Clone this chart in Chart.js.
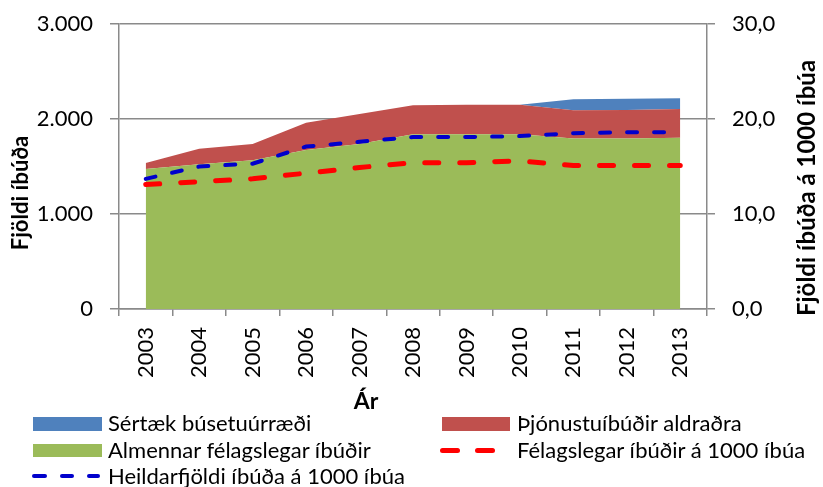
<!DOCTYPE html>
<html>
<head>
<meta charset="utf-8">
<script src="https://cdn.jsdelivr.net/npm/chart.js@4/dist/chart.umd.min.js"></script>
<style>
  html, body { margin: 0; padding: 0; background: #fff; }
  #wrap { position: relative; width: 823px; height: 487px; }
  #c { position: absolute; left: 0; top: 0; }
  .lg { position: absolute; font-family: Lato, 'Open Sans', sans-serif; font-size: 22px; color: #000; white-space: nowrap; line-height: 24px; }
  .sw { position: absolute; }
  .dash { position: absolute; border-radius: 3px; }
</style>
</head>
<body>
<div id="wrap">
  <canvas id="c" width="823" height="487"></canvas>
</div>
<script>
// ---- data ----
const years = ['2003','2004','2005','2006','2007','2008','2009','2010','2011','2012','2013'];
const almennar = [1474, 1523, 1565, 1674, 1737, 1839, 1839, 1839, 1796, 1796, 1803];
const thjonustu = [63, 165, 172, 287, 316, 305, 312, 312, 295, 299, 302];
const sertaek = [0, 0, 0, 0, 0, 0, 0, 0, 116, 117, 113];
const felagslegarPer1000 = [13.1, 13.4, 13.7, 14.3, 14.9, 15.4, 15.4, 15.6, 15.1, 15.1, 15.1];
const heildarPer1000 = [13.7, 15.0, 15.3, 17.1, 17.6, 18.1, 18.1, 18.2, 18.5, 18.6, 18.6];
const leftTickLabels = {0: '0', 1000: '1.000', 2000: '2.000', 3000: '3.000'};
const rightTickLabels = {0: '0,0', 10: '10,0', 20: '20,0', 30: '30,0'};
const seriesNames = ['Sértæk búsetuúrræði', 'Þjónustuíbúðir aldraðra', 'Almennar félagslegar íbúðir', 'Félagslegar íbúðir á 1000 íbúa', 'Heildarfjöldi íbúða á 1000 íbúa'];
const xTitle = 'Ár';
const yTitle = 'Fjöldi íbúða';
const y1Title = 'Fjöldi íbúða á 1000 íbúa';

// ---- styles ----
const FONT = 'Lato, "Open Sans", sans-serif';
const GRID = '#8a8a8a';
const C_GREEN = '#9BBB59', C_RED = '#C0504D', C_BLUE = '#4F81BD';
const C_LRED = '#FF0000', C_LBLUE = '#0000CC';

const titlePlugin = {
  id: 'titles',
  afterDraw(chart) {
    const ctx = chart.ctx;
    ctx.save();
    ctx.fillStyle = '#000';
    ctx.textAlign = 'center';
    ctx.textBaseline = 'middle';
    ctx.font = 'bold 23px ' + FONT;
    ctx.fillText(xTitle, 366, 402);
    ctx.save();
    ctx.translate(21, 193);
    ctx.rotate(-Math.PI / 2);
    ctx.font = 'bold 22px ' + FONT;
    ctx.fillText(yTitle, 0, 0);
    ctx.restore();
    ctx.save();
    ctx.translate(807, 188);
    ctx.rotate(-Math.PI / 2);
    ctx.font = 'bold 24px ' + FONT;
    ctx.fillText(y1Title, 0, 0);
    ctx.restore();
    ctx.restore();
  }
};

function fixVertical(width) {
  return function (s) { s.width = width; s.paddingTop = 0; s.paddingBottom = 0; };
}

new Chart(document.getElementById('c'), {
  type: 'line',
  data: {
    labels: years,
    datasets: [
      { label: seriesNames[2], data: almennar, yAxisID: 'y', fill: 'origin', backgroundColor: C_GREEN, borderColor: C_GREEN, borderWidth: 0, pointRadius: 0, order: 1 },
      { label: seriesNames[1], data: thjonustu, yAxisID: 'y', fill: '-1', backgroundColor: C_RED, borderColor: C_RED, borderWidth: 0, pointRadius: 0, order: 1 },
      { label: seriesNames[0], data: sertaek, yAxisID: 'y', fill: '-1', backgroundColor: C_BLUE, borderColor: C_BLUE, borderWidth: 0, pointRadius: 0, order: 1 },
      { label: seriesNames[3], data: felagslegarPer1000, yAxisID: 'y1', fill: false, borderColor: C_LRED, borderWidth: 5, borderDash: [14, 21], borderCapStyle: 'round', pointRadius: 0, order: 0 },
      { label: seriesNames[4], data: heildarPer1000, yAxisID: 'y1', fill: false, borderColor: C_LBLUE, borderWidth: 4, borderDash: [10, 17], borderCapStyle: 'round', pointRadius: 0, order: 0 }
    ]
  },
  options: {
    responsive: false,
    animation: false,
    devicePixelRatio: 1,
    layout: { padding: { top: 24, left: 0, right: 0, bottom: 0 } },
    plugins: { legend: { display: false }, tooltip: { enabled: false } },
    elements: { line: { tension: 0 } },
    scales: {
      x: {
        offset: true,
        grid: { offset: true, drawOnChartArea: false, color: GRID, tickLength: 7, lineWidth: 1.5 },
        border: { color: GRID, width: 1.5 },
        ticks: { minRotation: 90, maxRotation: 90, autoSkip: false, padding: 11, color: '#000', font: { family: FONT, size: 22 } },
        afterFit(s) { s.height = 487 - 309; }
      },
      y: {
        position: 'left',
        stacked: true,
        min: 0, max: 3000,
        grid: { color: GRID, tickLength: 9, lineWidth: 1.5 },
        border: { color: GRID, width: 1.5 },
        ticks: { stepSize: 1000, padding: 17, color: '#000', font: { family: FONT, size: 22 }, callback: v => leftTickLabels[v] },
        afterFit: fixVertical(119)
      },
      y1: {
        position: 'right',
        min: 0, max: 30,
        grid: { drawOnChartArea: false, color: GRID, tickLength: 8, lineWidth: 1.5 },
        border: { color: GRID, width: 1.5 },
        ticks: { stepSize: 10, padding: 17, color: '#000', font: { family: FONT, size: 22 }, callback: v => rightTickLabels[v] },
        afterFit: fixVertical(823 - 707)
      }
    }
  },
  plugins: [titlePlugin]
});

// ---- HTML legend ----
const wrap = document.getElementById('wrap');
function add(cls, css, text) {
  const d = document.createElement('div');
  d.className = cls;
  Object.assign(d.style, css);
  if (text) d.textContent = text;
  wrap.appendChild(d);
}
add('sw', { left: '33px', top: '417px', width: '69px', height: '14px', background: C_BLUE });
add('lg', { left: '108px', top: '411px' }, seriesNames[0]);
add('sw', { left: '442px', top: '417px', width: '68px', height: '14px', background: C_RED });
add('lg', { left: '517px', top: '411px' }, seriesNames[1]);
add('sw', { left: '33px', top: '444px', width: '69px', height: '13px', background: C_GREEN });
add('lg', { left: '108px', top: '438px' }, seriesNames[2]);
[[440, 460], [475, 495]].forEach(([a, b]) => add('dash', { left: a + 'px', top: '448px', width: (b - a) + 'px', height: '5px', background: C_LRED }));
add('lg', { left: '517px', top: '438px' }, seriesNames[3]);
[[32, 47], [60, 74], [87, 100]].forEach(([a, b]) => add('dash', { left: a + 'px', top: '474px', width: (b - a) + 'px', height: '4px', background: C_LBLUE }));
add('lg', { left: '108px', top: '464px' }, seriesNames[4]);
</script>
</body>
</html>
